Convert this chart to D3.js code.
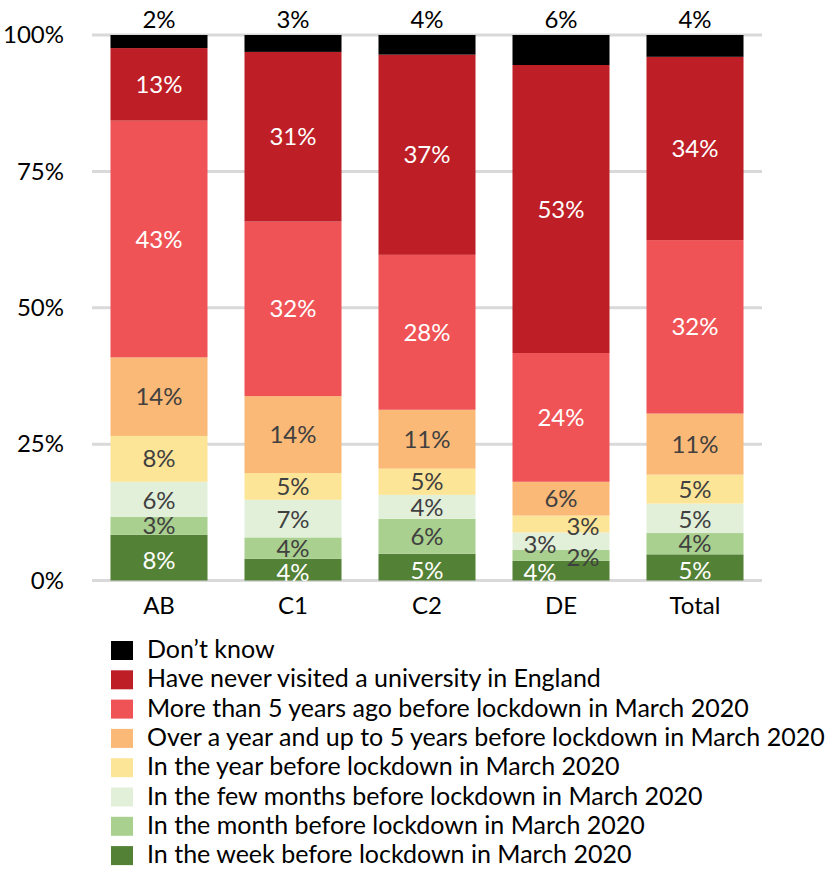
<!DOCTYPE html>
<html>
<head>
<meta charset="utf-8">
<script src="https://cdn.jsdelivr.net/npm/d3@7"></script>
<style>
  html, body { margin: 0; padding: 0; background: #fff; }
  svg { display: block; font-family: Lato, "Noto Sans", sans-serif; }
</style>
</head>
<body>
<svg id="chart" width="828" height="874"></svg>
<script>
// Social grade groups along the x axis
const categories = ["AB", "C1", "C2", "DE", "Total"];

// Share of respondents (%) by when they last visited a university, per group
const weekBefore     = [8.4, 4.0, 4.9, 3.6, 4.8];
const monthBefore    = [3.3, 3.9, 6.4, 2.0, 3.9];
const fewMonths      = [6.4, 6.9, 4.4, 3.2, 5.4];
const yearBefore     = [8.4, 4.9, 4.8, 3.1, 5.3];
const overYear       = [14.4, 14.1, 10.8, 6.2, 11.2];
const moreThan5Years = [43.4, 32.0, 28.4, 23.6, 31.8];
const neverVisited   = [13.3, 31.1, 36.7, 52.8, 33.6];
const dontKnow       = [2.4, 3.1, 3.6, 5.5, 4.0];

// Series names, stacked bottom to top
const seriesNames = [
  "In the week before lockdown in March 2020",
  "In the month before lockdown in March 2020",
  "In the few months before lockdown in March 2020",
  "In the year before lockdown in March 2020",
  "Over a year and up to 5 years before lockdown in March 2020",
  "More than 5 years ago before lockdown in March 2020",
  "Have never visited a university in England",
  "Don\u2019t know"
];
const seriesValues = [weekBefore, monthBefore, fewMonths, yearBefore,
                      overYear, moreThan5Years, neverVisited, dontKnow];

const yTicks = [0, 25, 50, 75, 100];

// Styling
const fills = ["#538135", "#a9d08e", "#e2efd9", "#fde598",
               "#fbb977", "#ef5355", "#be1e25", "#000000"];
const labelColors = ["#ffffff", "#404040", "#404040", "#404040",
                     "#404040", "#ffffff", "#ffffff", "#000000"];
// Per-layer vertical offset of value labels (bottom layer sits a little low)
const layerDy = [3, 0, 1, 0, 0, 0, 0, 0];
// Nudges for crowded labels in the DE column: [dx, dy]
const labelNudge = {
  "DE|0": [-21, -1],
  "DE|1": [22, 2],
  "DE|2": [-21, 2],
  "DE|3": [22, 2]
};

const svg = d3.select("#chart");
const margin = { left: 92, right: 66, top: 35, bottom: 293.5 };
const width = 828, height = 874;
const fontSize = 24;

const x = d3.scaleBand()
  .domain(categories)
  .range([margin.left, width - margin.right])
  .paddingInner(0.276)
  .paddingOuter(0.138);

const y = d3.scaleLinear()
  .domain([0, 100])
  .range([height - margin.bottom, margin.top]);

// Build stack table
const rows = categories.map((c, i) => {
  const r = { category: c };
  seriesNames.forEach((s, k) => { r[s] = seriesValues[k][i]; });
  return r;
});
const stacked = d3.stack().keys(seriesNames)(rows);

// Gridlines
svg.append("g")
  .selectAll("line")
  .data(yTicks)
  .join("line")
  .attr("x1", margin.left)
  .attr("x2", width - margin.right)
  .attr("y1", d => y(d))
  .attr("y2", d => y(d))
  .attr("stroke", "#d9d9d9")
  .attr("stroke-width", 3);

// Y axis labels
const yAxis = d3.axisLeft(y)
  .tickValues(yTicks)
  .tickFormat(d => d + "%")
  .tickSize(0)
  .tickPadding(0);
const yg = svg.append("g")
  .attr("transform", `translate(${margin.left - 28},0)`)
  .call(yAxis);
yg.select(".domain").remove();
yg.selectAll("text")
  .attr("font-size", fontSize)
  .attr("font-family", "Lato, 'Noto Sans', sans-serif")
  .attr("fill", "#000");

// X axis labels
const xAxis = d3.axisBottom(x).tickSize(0).tickPadding(0);
const xg = svg.append("g")
  .attr("transform", `translate(0,${y(0) + 16})`)
  .call(xAxis);
xg.select(".domain").remove();
xg.selectAll("text")
  .attr("font-size", fontSize)
  .attr("font-family", "Lato, 'Noto Sans', sans-serif")
  .attr("fill", "#000");

// Bars
const layers = svg.append("g")
  .selectAll("g")
  .data(stacked)
  .join("g")
  .attr("fill", (d, k) => fills[k]);

layers.selectAll("rect")
  .data(d => d)
  .join("rect")
  .attr("x", d => x(d.data.category))
  .attr("width", x.bandwidth())
  .attr("y", d => y(d[1]))
  .attr("height", d => y(d[0]) - y(d[1]));

// Value labels
const fmt = v => Math.round(v) + "%";
const labels = svg.append("g")
  .attr("font-size", fontSize)
  .attr("text-anchor", "middle");

stacked.forEach((layer, k) => {
  layer.forEach(d => {
    const cat = d.data.category;
    const v = d[1] - d[0];
    const nudge = labelNudge[cat + "|" + k] || [0, 0];
    let cy;
    if (k === stacked.length - 1) {
      // "Don't know" labels sit above the bars
      cy = y(100) - 17;
    } else {
      cy = (y(d[0]) + y(d[1])) / 2 - 1 + layerDy[k] + nudge[1];
    }
    labels.append("text")
      .attr("x", x(cat) + x.bandwidth() / 2 + nudge[0])
      .attr("y", cy)
      .attr("dominant-baseline", "central")
      .attr("fill", labelColors[k])
      .text(fmt(v));
  });
});

// Legend (top entry is the top of the stack)
const legendOrder = seriesNames.map((s, k) => k).reverse();
const legend = svg.append("g")
  .attr("transform", "translate(111,641)");
const item = legend.selectAll("g")
  .data(legendOrder)
  .join("g")
  .attr("transform", (k, i) => `translate(0,${i * 29.3})`);
item.append("rect")
  .attr("width", 22)
  .attr("height", 19)
  .attr("fill", k => fills[k]);
item.append("text")
  .attr("x", 36)
  .attr("y", 7)
  .attr("dominant-baseline", "central")
  .attr("font-size", 25)
  .attr("fill", "#000")
  .text(k => seriesNames[k]);
</script>
</body>
</html>
